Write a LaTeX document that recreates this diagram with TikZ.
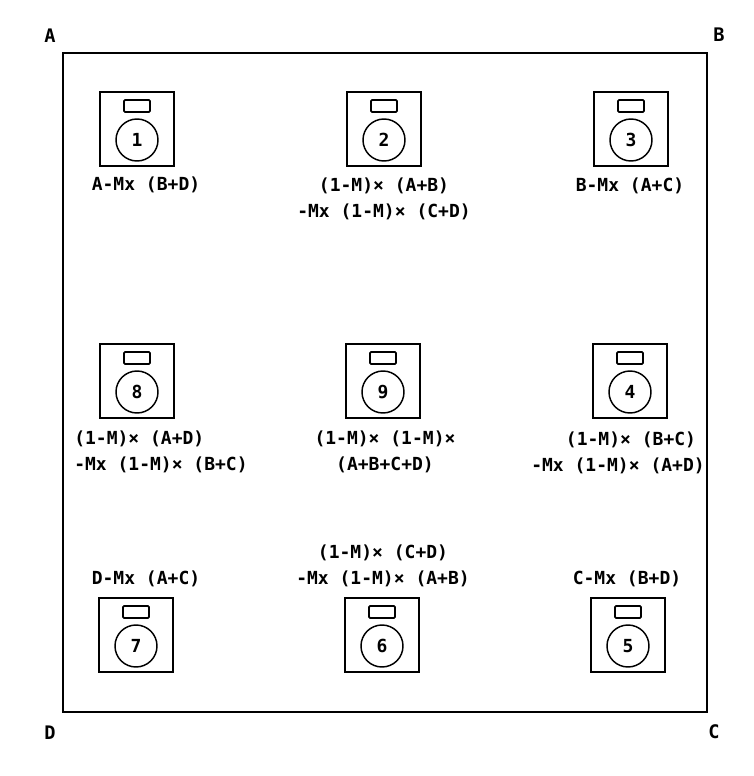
\documentclass[tikz,border=0pt]{standalone}
\usepackage{fontspec}
\usepackage{xcolor}
\usetikzlibrary{positioning}
\setmonofont{DejaVu Sans Mono}
\tikzset{
  frameline/.style={draw=black, line width=1.5pt},
  cabinet/.style={draw=black, line width=1.4pt, minimum size=56pt, inner sep=0pt},
  slotbox/.style={draw=black, line width=1.3pt, rounded corners=0.8pt, minimum width=19.5pt, minimum height=9pt, inner sep=0pt},
  dial/.style={circle, draw=black, line width=1.1pt, minimum size=31.5pt, inner sep=0pt, font=\ttfamily\bfseries\fontsize{13.5}{15}\selectfont},
  lab/.style={text=black, inner sep=0pt, font=\ttfamily\bfseries\fontsize{13.5}{19.5}\selectfont},
  corner/.style={text=black, inner sep=0pt, font=\ttfamily\bfseries\fontsize{14}{15}\selectfont},
}
\begin{document}
\begin{tikzpicture}[x=0.75pt,y=-0.75pt]
  \useasboundingbox (0,0) rectangle (754,776);

  \coordinate (A) at (63,53);
  \coordinate (C) at (707,712);
  \draw[frameline] (A) rectangle (C);

  \node[corner] (cornerA) at (50,36) {A};
  \node[corner] (cornerB) at (719,35) {B};
  \node[corner] (cornerC) at (714,732) {C};
  \node[corner] (cornerD) at (50,733) {D};

  % cabinets: number, then centre of the box
  \foreach \n/\x/\y in {1/137/129,2/384/129,3/631/129,
                        8/137/381,9/383/381,4/630/381,
                        7/136/635,6/382/635,5/628/635}{
    \node[cabinet] (box\n) at (\x,\y) {};
    \node[slotbox] (slot\n) at (\x,\y-23) {};
    \node[dial] (dial\n) at (\x,\y+11) {\n};
  }

  % labels under or over the cabinets
  \node[lab] (lab1) at (146,185) {A-Mx (B+D)};
  \node[lab,align=center] (lab2) at (384,199) {(1-M)× (A+B)\\-Mx (1-M)× (C+D)};
  \node[lab] (lab3) at (630,186) {B-Mx (A+C)};
  \node[lab,align=left,anchor=west] (lab8) at (74,452) {(1-M)× (A+D)\\-Mx (1-M)× (B+C)};
  \node[lab,align=center] (lab9) at (385,452) {(1-M)× (1-M)×\\(A+B+C+D)};
  \node[lab] (lab4a) at (631,440) {(1-M)× (B+C)};
  \node[lab] (lab4b) at (618,466) {-Mx (1-M)× (A+D)};
  \node[lab] (lab7) at (146,579) {D-Mx (A+C)};
  \node[lab,align=center] (lab6) at (383,566) {(1-M)× (C+D)\\-Mx (1-M)× (A+B)};
  \node[lab] (lab5) at (627,579) {C-Mx (B+D)};
\end{tikzpicture}
\end{document}
